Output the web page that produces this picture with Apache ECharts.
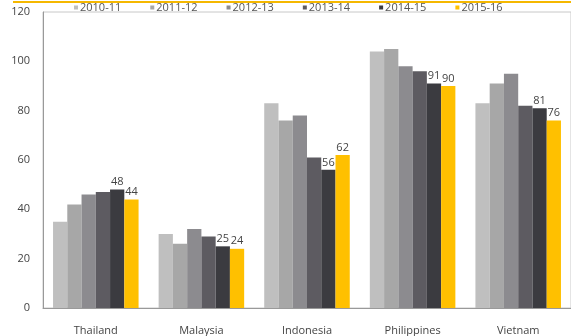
<!DOCTYPE html>
<html>
<head>
<meta charset="utf-8">
<script src="https://cdn.jsdelivr.net/npm/echarts@6/dist/echarts.min.js"></script>
<style>
  html, body { margin: 0; padding: 0; background: #fff; }
  #chart { width: 571px; height: 336px; }
</style>
</head>
<body>
<div id="chart"></div>
<script>
// Countries along the category axis
const countries = ['Thailand', 'Malaysia', 'Indonesia', 'Philippines', 'Vietnam'];

// Fiscal years, one bar series each
const years = ['2010-11', '2011-12', '2012-13', '2013-14', '2014-15', '2015-16'];

// Values per year, in country order
const fy2010_11 = [35, 30, 83, 104, 83];
const fy2011_12 = [42, 26, 76, 105, 91];
const fy2012_13 = [46, 32, 78, 98, 95];
const fy2013_14 = [47, 29, 61, 96, 82];
const fy2014_15 = [48, 25, 56, 91, 81];
const fy2015_16 = [44, 24, 62, 90, 76];

const yTicks = [0, 20, 40, 60, 80, 100, 120];

const seriesValues = [fy2010_11, fy2011_12, fy2012_13, fy2013_14, fy2014_15, fy2015_16];
const barColors = ['#bfbfbf', '#a7a7a7', '#8c8b8f', '#5d5b61', '#3b3b40', '#ffc000'];
const labelled = [false, false, false, false, true, true];

const font = '"Open Sans", "Noto Sans", sans-serif';

const chart = echarts.init(document.getElementById('chart'), null, { renderer: 'canvas' });

chart.setOption({
  animation: false,
  backgroundColor: '#ffffff',
  textStyle: { fontFamily: font },
  color: barColors,
  legend: {
    data: years,
    top: -3,
    left: 69,
    itemWidth: 4,
    itemHeight: 4,
    itemGap: 29,
    icon: 'rect',
    textStyle: { fontSize: 11, color: '#555', fontFamily: font, padding: [0, 0, 0, -3] }
  },
  graphic: [
    {
      type: 'line',
      shape: { x1: 13, y1: 2, x2: 571, y2: 2 },
      style: { stroke: '#f5b800', lineWidth: 2 },
      z: 0
    }
  ],
  grid: {
    left: 43,
    right: 0,
    top: 12,
    bottom: 24,
    show: true,
    borderColor: '#c8c8c8',
    borderWidth: 1,
    backgroundColor: 'transparent'
  },
  xAxis: {
    type: 'category',
    data: countries,
    axisLine: { show: true, lineStyle: { color: '#999' } },
    axisTick: { show: false },
    axisLabel: { fontSize: 11, color: '#444', margin: 17, fontFamily: font }
  },
  yAxis: {
    type: 'value',
    min: yTicks[0],
    max: yTicks[yTicks.length - 1],
    interval: 20,
    axisLine: { show: true, lineStyle: { color: '#999' } },
    axisTick: { show: false },
    splitLine: { show: false },
    axisLabel: { fontSize: 11, color: '#444', margin: 13, fontFamily: font }
  },
  series: years.map((name, i) => ({
    name: name,
    type: 'bar',
    data: seriesValues[i],
    barGap: '0%',
    barCategoryGap: '19%',
    itemStyle: { color: barColors[i] },
    label: {
      show: labelled[i],
      position: 'top',
      distance: 2,
      fontSize: 11,
      color: '#444',
      fontFamily: font
    }
  }))
});
</script>
</body>
</html>
